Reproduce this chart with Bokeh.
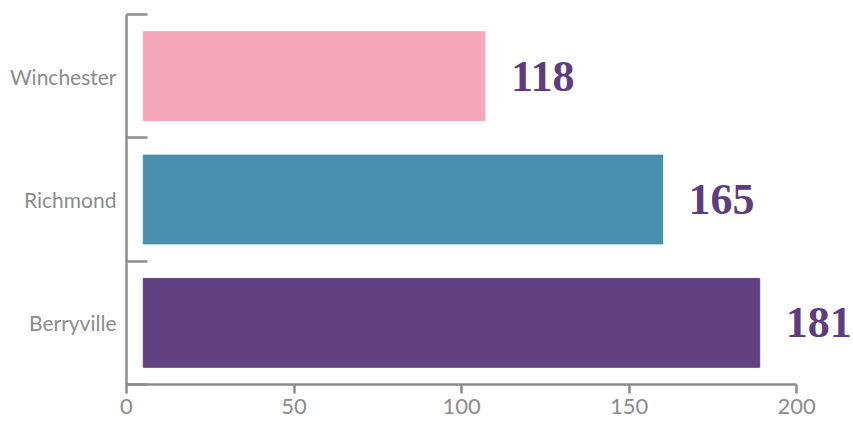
from bokeh.plotting import figure
from bokeh.models import Range1d, FixedTicker, ColumnDataSource, LabelSet
from bokeh.embed import file_html
from bokeh.resources import INLINE

# data (bottom to top)
categories = ["Berryville", "Richmond", "Winchester"]
bar_ends = [189, 160, 107]          # bar lengths as drawn against the axis
bar_labels = ["181", "165", "118"]  # printed values
bar_colors = ["#61417f", "#4b8fae", "#f6a6b9"]
bar_start = 5
x_ticks = [0, 50, 100, 150, 200]

ypos = [1, 2, 3]
src = ColumnDataSource(dict(y=ypos, right=bar_ends, lab=bar_labels, color=bar_colors))

p = figure(width=853, height=422, output_backend="svg", toolbar_location=None,
           x_range=Range1d(0, 217.0), y_range=Range1d(0.5, 3.5),
           min_border_left=126, min_border_right=0, min_border_top=14, min_border_bottom=38)
p.outline_line_color = None
p.xgrid.visible = False
p.ygrid.visible = False
p.background_fill_color = "white"

p.hbar(y="y", left=bar_start, right="right", height=0.72, color="color", source=src)
labels = LabelSet(x="right", y="y", text="lab", source=src, x_offset=26,
                  text_baseline="middle", text_align="left",
                  text_font="Liberation Serif", text_font_style="bold",
                  text_font_size="44px", text_color="#5d3d7e")
p.add_layout(labels)

gray = "#8c8c8c"
xa = p.xaxis[0]
xa.ticker = FixedTicker(ticks=x_ticks)
xa.bounds = (0, 200)
xa.axis_line_color = gray
xa.axis_line_width = 2.5
xa.major_tick_line_color = gray
xa.major_tick_line_width = 2.5
xa.major_tick_in = 0
xa.major_tick_out = 9
xa.minor_tick_line_color = None
xa.major_label_text_color = gray
xa.major_label_text_font = "Lato"
xa.major_label_text_font_size = "22px"
xa.major_label_standoff = 5

ya = p.yaxis[0]
ya.ticker = FixedTicker(ticks=ypos, minor_ticks=[0.5, 1.5, 2.5, 3.5])
ya.major_label_overrides = {y: c for y, c in zip(ypos, categories)}
ya.axis_line_color = gray
ya.axis_line_width = 2.5
ya.major_tick_line_color = None
ya.major_tick_in = 0
ya.major_tick_out = 0
ya.minor_tick_line_color = gray
ya.minor_tick_line_width = 2.5
ya.minor_tick_in = 21
ya.minor_tick_out = 0
ya.major_label_text_color = gray
ya.major_label_text_font = "Lato"
ya.major_label_text_font_size = "21px"
ya.major_label_standoff = 10

open("out.html", "w").write(file_html(p, INLINE))
